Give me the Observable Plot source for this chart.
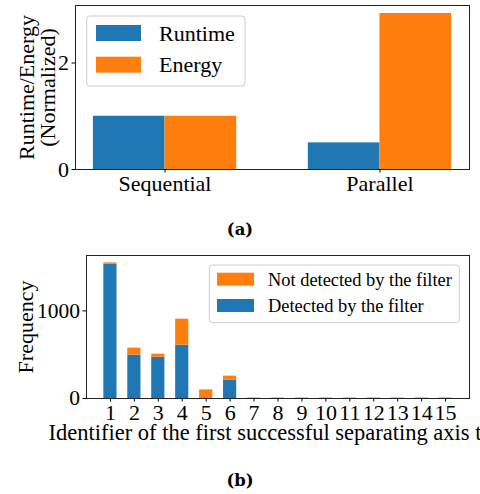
<!DOCTYPE html>
<html><head><meta charset="utf-8">
<script src="https://cdn.jsdelivr.net/npm/d3@7"></script>
<script src="https://cdn.jsdelivr.net/npm/@observablehq/plot@0.6"></script>
<style>
body{margin:0;background:#fff;overflow:hidden}
#fig{position:relative;width:480px;height:494px;overflow:hidden;font-family:"Liberation Serif",serif;background:#fff}
.p{position:absolute;left:0}
.cap{position:absolute;left:0;width:480px;text-align:center;font-family:"DejaVu Serif",serif;font-weight:bold;font-size:16.5px;line-height:18px;color:#000}
</style></head><body><div id="fig"></div>
<script>
// ---- Data (a)
const modes = ["Sequential", "Parallel"];
const runtime = [1.0, 0.5];
const energy = [1.0, 2.93];
const seriesA = ["Runtime", "Energy"];
const ticksA = [0, 2];
// ---- Data (b)
const ids = [1, 2, 3, 4, 5, 6, 7, 8, 9, 10, 11, 12, 13, 14, 15];
const detected = [1533, 495, 470, 608, 0, 210, 4, 4, 4, 4, 4, 4, 4, 4, 4];
const notDetected = [15, 80, 36, 297, 98, 45, 0, 0, 0, 0, 0, 0, 0, 0, 0];
const seriesB = ["Not detected by the filter", "Detected by the filter"];
const ticksB = [0, 1000];

const BLUE = "#1f77b4", ORANGE = "#ff7f0e";
const FONT = "Liberation Serif";
const fig = document.getElementById("fig");

function addLegend(svg, box, rows, patch, textX, fontSize) {
  const g = d3.select(svg).append("g").attr("text-anchor", "start");
  g.append("rect").attr("x", box.x).attr("y", box.y).attr("width", box.w).attr("height", box.h)
    .attr("rx", 3).attr("fill", "white").attr("fill-opacity", 0.8).attr("stroke", "#cccccc").attr("stroke-width", 1);
  rows.forEach(r => {
    g.append("rect").attr("x", patch.x).attr("y", r.cy - patch.h / 2).attr("width", patch.w).attr("height", patch.h).attr("fill", r.color);
    g.append("text").attr("x", textX).attr("y", r.cy).attr("dy", "0.35em").attr("text-anchor", "start")
      .attr("font-family", FONT).attr("font-size", fontSize).attr("fill", "black").text(r.label);
  });
}

// ---- Chart (a)
const wA = 1 / 3;
const rowsA = modes.flatMap((m, i) => [
  {x1: i - wA, x2: i, y1: 0, y2: runtime[i], s: seriesA[0]},
  {x1: i, x2: i + wA, y1: 0, y2: energy[i], s: seriesA[1]}
]);
const plotA = Plot.plot({
  width: 480, height: 200,
  marginLeft: 75, marginRight: 11, marginTop: 5, marginBottom: 31,
  style: {fontFamily: FONT, fontSize: "22px", color: "black", background: "transparent"},
  x: {type: "linear", domain: [-0.4167, 1.4167]},
  y: {domain: [0, 3.08]},
  color: {domain: seriesA, range: [BLUE, ORANGE]},
  marks: [
    Plot.rect(rowsA, {x1: "x1", x2: "x2", y1: "y1", y2: "y2", fill: "s"}),
    Plot.frame({stroke: "#222", strokeWidth: 1}),
    Plot.axisX({ticks: [0, 1], tickFormat: i => modes[i], tickSize: 3.5, tickPadding: 2, label: null, fontSize: 22}),
    Plot.axisY({ticks: ticksA, tickFormat: d => String(d), tickSize: 3.5, tickPadding: 3, label: null, fontSize: 22}),
    Plot.text(["Runtime/Energy\n(Normalized)"], {text: d => d, frameAnchor: "left", rotate: -90, dx: -38,
      textAnchor: "middle", lineAnchor: "middle", lineHeight: 0.95, fontSize: 22})
  ]
});
plotA.classList.add("p"); plotA.style.top = "0px";
fig.appendChild(plotA);
addLegend(plotA, {x: 86.7, y: 16, w: 158.3, h: 70},
  [{label: seriesA[0], color: BLUE, cy: 33}, {label: seriesA[1], color: ORANGE, cy: 64.7}],
  {x: 96, w: 45, h: 16}, 159, 22);

// ---- Chart (b)
const wB = 0.55;
const rowsB = ids.flatMap((id, i) => [
  {x1: id - wB / 2, x2: id + wB / 2, y1: 0, y2: detected[i], s: seriesB[1]},
  {x1: id - wB / 2, x2: id + wB / 2, y1: detected[i], y2: detected[i] + notDetected[i], s: seriesB[0]}
]);
const plotB = Plot.plot({
  width: 480, height: 200,
  marginLeft: 86, marginRight: 11, marginTop: 5, marginBottom: 52,
  style: {fontFamily: FONT, fontSize: "22px", color: "black", background: "transparent", overflow: "visible"},
  x: {type: "linear", domain: [0, 16]},
  y: {domain: [0, 1632]},
  color: {domain: seriesB, range: [ORANGE, BLUE]},
  marks: [
    Plot.rect(rowsB, {x1: "x1", x2: "x2", y1: "y1", y2: "y2", fill: "s"}),
    Plot.frame({stroke: "#222", strokeWidth: 1}),
    Plot.axisX({ticks: ids, tickFormat: d => String(d), tickSize: 3.5, tickPadding: 2, label: null, fontSize: 22}),
    Plot.axisY({ticks: ticksB, tickFormat: d => String(d), tickSize: 3.5, tickPadding: 3, label: null, fontSize: 21.5}),
    Plot.text(["Frequency"], {text: d => d, frameAnchor: "left", rotate: -90, dx: -61,
      textAnchor: "middle", lineAnchor: "middle", fontSize: 22}),
    Plot.text(["Identifier of the first successful separating axis test"], {text: d => d, frameAnchor: "bottom-left", dx: -38, dy: 34,
      textAnchor: "start", lineAnchor: "middle", fontSize: 22.5})
  ]
});
plotB.classList.add("p"); plotB.style.top = "250px";
fig.appendChild(plotB);
addLegend(plotB, {x: 209.3, y: 15, w: 250, h: 57.7},
  [{label: seriesB[0], color: ORANGE, cy: 29.2}, {label: seriesB[1], color: BLUE, cy: 55.5}],
  {x: 217, w: 37, h: 13}, 268, 18.4);

// ---- Captions
const capA = document.createElement("div"); capA.className = "cap"; capA.style.top = "221px"; capA.textContent = "(a)";
const capB = document.createElement("div"); capB.className = "cap"; capB.style.top = "472px"; capB.textContent = "(b)";
fig.appendChild(capA); fig.appendChild(capB);
</script></body></html>
